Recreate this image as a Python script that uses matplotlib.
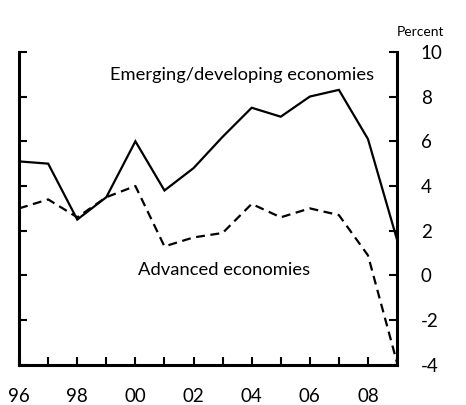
import matplotlib.pyplot as plt
import numpy as np

plt.rcParams['font.family'] = ['Lato', 'DejaVu Sans']
plt.rcParams['axes.unicode_minus'] = False

years = np.arange(1996, 2010)
emerging = [5.1, 5.0, 2.5, 3.5, 6.0, 3.8, 4.8, 6.2, 7.5, 7.1, 8.0, 8.3, 6.1, 1.6]
advanced = [3.0, 3.4, 2.6, 3.5, 4.0, 1.3, 1.7, 1.9, 3.2, 2.6, 3.0, 2.7, 0.9, -3.9]
xtick_years = np.arange(1996, 2010, 2)
xtick_labels = ['96', '98', '00', '02', '04', '06', '08']

fig = plt.figure(figsize=(4.66, 4.05), dpi=100)
ax = fig.add_axes([0.041, 0.099, 0.811, 0.773])

ax.plot(years, emerging, color='black', lw=1.6, solid_joinstyle='miter')
ax.plot(years, advanced, color='black', lw=1.6, ls=(0, (4, 2.5)))

ax.set_xlim(1996, 2009)
ax.set_ylim(-4, 10)

# spines
ax.spines['top'].set_visible(False)
for s in ['left', 'right', 'bottom']:
    ax.spines[s].set_linewidth(2.2)

ax.set_xticks(years, minor=True)
ax.set_xticks(xtick_years)
ax.set_xticklabels(xtick_labels)
ax.tick_params(axis='x', which='both', direction='in', length=6, width=1.5,
               pad=16.5, labelsize=13.5)

ax.set_yticks(np.arange(-4, 11, 2))
ax.tick_params(axis='y', direction='in', length=6, width=1.5, left=True,
               right=True, labelleft=False, labelright=True, pad=17,
               labelsize=13.5)

ax.text(2003.67, 8.95, 'Emerging/developing economies', ha='center',
        va='center', fontsize=13.2)
ax.text(2003.05, 0.25, 'Advanced economies', ha='center', va='center',
        fontsize=13.2)
fig.text(0.902, 0.92, 'Percent', ha='center', va='center', fontsize=10)

fig.savefig('out.png', dpi=100)
